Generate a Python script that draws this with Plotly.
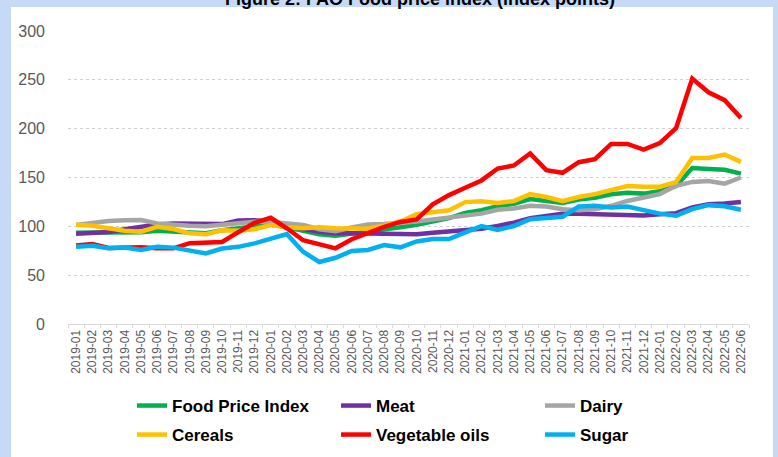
import plotly.graph_objects as go

months = [f"{y}-{m:02d}" for y in (2019, 2020, 2021, 2022) for m in range(1, 13)][:42]

food_price_index = [93.5, 93.5, 93.0, 93.5, 94.0, 95.5, 95.0, 93.8, 93.0, 96.0, 98.0, 99.5,
                    101.8, 99.0, 95.2, 92.0, 90.3, 92.3, 94.2, 96.5, 99.0, 101.5, 105.5, 108.5,
                    113.8, 116.5, 120.5, 123.0, 128.0, 125.5, 123.8, 127.5, 129.2, 132.8, 134.5, 133.5,
                    136.0, 141.2, 159.7, 158.8, 158.0, 154.0]
meat = [92.5, 93.3, 94.3, 97.0, 99.8, 101.8, 102.8, 102.8, 102.0, 102.3, 106.0, 106.3,
        105.0, 101.0, 97.2, 94.5, 93.0, 92.8, 92.3, 91.8, 91.6, 91.8, 93.5, 94.8,
        96.0, 97.5, 100.5, 103.8, 108.3, 110.7, 113.0, 113.0, 112.5, 112.2, 112.5, 111.0,
        112.4, 113.5, 119.3, 122.5, 123.3, 125.0]
dairy = [101.5, 103.5, 105.5, 106.2, 106.5, 103.0, 101.5, 100.5, 100.2, 102.0, 103.8, 104.8,
         104.5, 103.3, 101.5, 97.0, 95.0, 98.8, 101.8, 102.3, 103.2, 105.0, 107.0, 109.0,
         111.7, 113.0, 117.0, 118.3, 121.0, 120.3, 117.5, 116.5, 117.5, 121.0, 126.0, 129.5,
         133.0, 141.5, 145.5, 146.5, 143.7, 150.0]
cereals = [101.5, 100.5, 98.0, 95.5, 94.5, 99.5, 97.3, 92.8, 92.0, 96.0, 95.5, 97.0,
           101.3, 99.0, 98.0, 99.0, 98.0, 97.3, 97.5, 101.0, 105.0, 112.5, 115.0, 116.5,
           124.8, 125.8, 124.0, 125.8, 133.0, 130.0, 125.8, 130.0, 133.0, 137.0, 141.3, 140.5,
           140.5, 145.3, 170.0, 170.0, 173.5, 166.0]
vegetable_oils = [80.5, 82.0, 77.8, 78.5, 78.5, 77.5, 77.5, 82.8, 83.8, 84.0, 94.0, 103.5,
                  108.8, 98.0, 85.8, 81.5, 77.5, 86.8, 93.5, 99.5, 104.5, 107.0, 122.5, 132.0,
                  139.5, 147.0, 159.2, 162.3, 174.6, 157.5, 154.8, 165.7, 168.8, 184.4, 184.4, 178.5,
                  185.2, 200.5, 251.3, 237.3, 229.2, 211.0]
sugar = [79.0, 80.0, 77.5, 78.2, 75.8, 79.0, 78.2, 75.0, 72.3, 77.3, 79.0, 82.5,
         87.0, 92.0, 74.0, 63.5, 67.8, 74.8, 75.8, 80.8, 78.5, 84.5, 87.0, 87.0,
         93.8, 100.3, 96.2, 100.3, 107.3, 108.0, 109.8, 120.3, 121.0, 119.3, 120.2, 116.6,
         113.0, 110.8, 117.6, 121.7, 120.5, 117.0]

series = [
    ("Food Price Index", food_price_index, "#00B050", "legend"),
    ("Meat", meat, "#7030A0", "legend"),
    ("Dairy", dairy, "#A5A5A5", "legend"),
    ("Cereals", cereals, "#FFC000", "legend2"),
    ("Vegetable oils", vegetable_oils, "#FF0000", "legend2"),
    ("Sugar", sugar, "#00B0F0", "legend2"),
]

FONT = "Arial, Liberation Sans, sans-serif"
fig = go.Figure()
for name, vals, color, lg in series:
    fig.add_trace(go.Scatter(x=months, y=vals, name=name, mode="lines",
                             line=dict(color=color, width=4.5), legend=lg))

W, H = 778, 457
L, R, T, B = 68, 29, 31, 133
pw, ph = W - L - R, H - T - B

def px_x(x):
    return (x - L) / pw

def px_y(y):
    return (H - B - y) / ph

legend_common = dict(orientation="h", xanchor="left", yanchor="middle",
                     entrywidth=159, entrywidthmode="pixels",
                     font=dict(family=FONT, size=17, color="#000000", weight="bold"),
                     bgcolor="rgba(0,0,0,0)", itemclick=False)

fig.update_layout(
    width=W, height=H,
    margin=dict(l=L, r=R, t=T, b=B, autoexpand=False),
    paper_bgcolor="#c6daf8",
    plot_bgcolor="#ffffff",
    font=dict(family=FONT, color="#595959"),
    showlegend=True,
    legend=dict(x=px_x(132), y=px_y(406), **legend_common),
    legend2=dict(x=px_x(132), y=px_y(435), **legend_common),
    xaxis=dict(type="category", tickangle=-90, tickfont=dict(size=12, color="#595959"),
               showline=True, linecolor="#d9d9d9", linewidth=1,
               ticks="outside", tickson="boundaries", ticklen=3, tickcolor="#d9d9d9",
               showgrid=False, range=[-0.5, 41.5]),
    yaxis=dict(range=[0, 300], dtick=50, tickfont=dict(size=16, color="#595959"),
               showgrid=True, gridcolor="#d0d0d0", griddash="dot", gridwidth=1,
               zeroline=False, showline=False, ticklabelstandoff=22),
    shapes=[dict(type="rect", xref="paper", yref="paper",
                 x0=px_x(11), x1=px_x(773), y0=px_y(470), y1=px_y(7),
                 fillcolor="#ffffff", line=dict(width=0), layer="below")],
    annotations=[dict(text="Figure 2: FAO Food price index (index points)",
                      xref="paper", yref="paper", x=px_x(420), y=px_y(-1),
                      xanchor="center", yanchor="middle", showarrow=False,
                      font=dict(family=FONT, size=18, color="#000000", weight="bold"))],
)

fig.write_html("out.html",
               config={"displayModeBar": False},
               post_script="document.body.style.margin='0px';document.body.style.overflow='hidden';")
